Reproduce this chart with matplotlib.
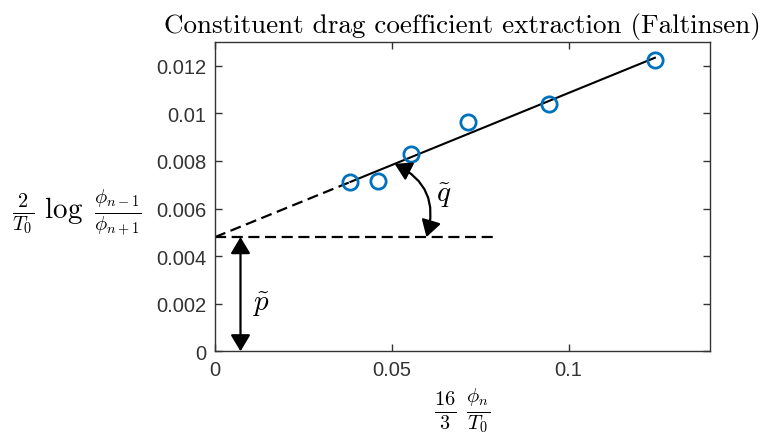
import matplotlib
matplotlib.use("Agg")
import matplotlib.pyplot as plt
import numpy as np

plt.rcParams['mathtext.fontset'] = 'cm'

# measured points
x_vals = np.array([0.0383, 0.0462, 0.0554, 0.0715, 0.0944, 0.1244])
y_vals = np.array([0.00713, 0.00717, 0.00831, 0.00963, 0.01039, 0.01224])

x_ticks = [0, 0.05, 0.1]
x_tick_labels = ['0', '0.05', '0.1']
y_ticks = [0, 0.002, 0.004, 0.006, 0.008, 0.01, 0.012]
y_tick_labels = ['0', '0.002', '0.004', '0.006', '0.008', '0.01', '0.012']

slope, p_tilde = np.polyfit(x_vals, y_vals, 1)

fig = plt.figure(figsize=(7.62, 4.35), dpi=100)
ax = fig.add_axes([0.2822, 0.1901, 0.6496, 0.711])

# fitted line: solid over data, dashed extrapolation to x=0
xs = np.array([x_vals[0], x_vals[-1]])
ax.plot(xs, p_tilde + slope*xs, 'k-', lw=1.5)
xd = np.array([0, x_vals[0]])
ax.plot(xd, p_tilde + slope*xd, 'k--', lw=1.6, dashes=(5, 2.5))
ax.plot([0, 0.08], [p_tilde, p_tilde], 'k--', lw=1.6, dashes=(5, 2.5))

ax.plot(x_vals, y_vals, 'o', mfc='none', mec='#0072BD', ms=11, mew=2)

# p tilde arrow
ax.annotate('', xy=(0.0072, 0), xytext=(0.0072, p_tilde),
            arrowprops=dict(arrowstyle='<|-|>,head_length=0.5,head_width=0.3',
                            color='k', lw=1.6, shrinkA=0, shrinkB=0, mutation_scale=20))
ax.text(0.0105, 0.0020, r'$\tilde{p}$', fontsize=21, va='center')

# q tilde angle arrow
xq = 0.0508
ax.annotate('', xy=(xq, p_tilde + slope*xq), xytext=(0.0598, p_tilde),
            arrowprops=dict(arrowstyle='<|-|>,head_length=0.5,head_width=0.3',
                            color='k', lw=1.6, shrinkA=0, shrinkB=0, mutation_scale=20,
                            connectionstyle='arc3,rad=0.42'))
ax.text(0.0625, 0.0066, r'$\tilde{q}$', fontsize=21, va='center')

ax.set_xlim(0, 0.14)
ax.set_ylim(0, 0.013)
ax.set_xticks(x_ticks)
ax.set_xticklabels(x_tick_labels, fontfamily='Liberation Sans', fontsize=14.5, color='#333333')
ax.set_yticks(y_ticks)
ax.set_yticklabels(y_tick_labels, fontfamily='Liberation Sans', fontsize=14.5, color='#333333')
ax.tick_params(direction='in', top=True, right=True, length=5, width=1, color='#333333', pad=6)
for s in ax.spines.values():
    s.set_color('#333333')
    s.set_linewidth(1.0)

ax.set_title('Constituent drag coefficient extraction (Faltinsen)', fontfamily='cmr10',
             fontsize=19.5, pad=7)
ax.set_xlabel(r'$\frac{16}{3}\ \frac{\phi_n}{T_0}$', fontsize=21, va='center')
ax.xaxis.set_label_coords(0.5, -0.19)
ax.set_ylabel(r'$\frac{2}{T_0}\ \log\ \frac{\phi_{n-1}}{\phi_{n+1}}$', fontsize=21,
              rotation=0, ha='right', va='center')
ax.yaxis.set_label_coords(-0.147, 0.45)

fig.savefig('out.png', dpi=100)
